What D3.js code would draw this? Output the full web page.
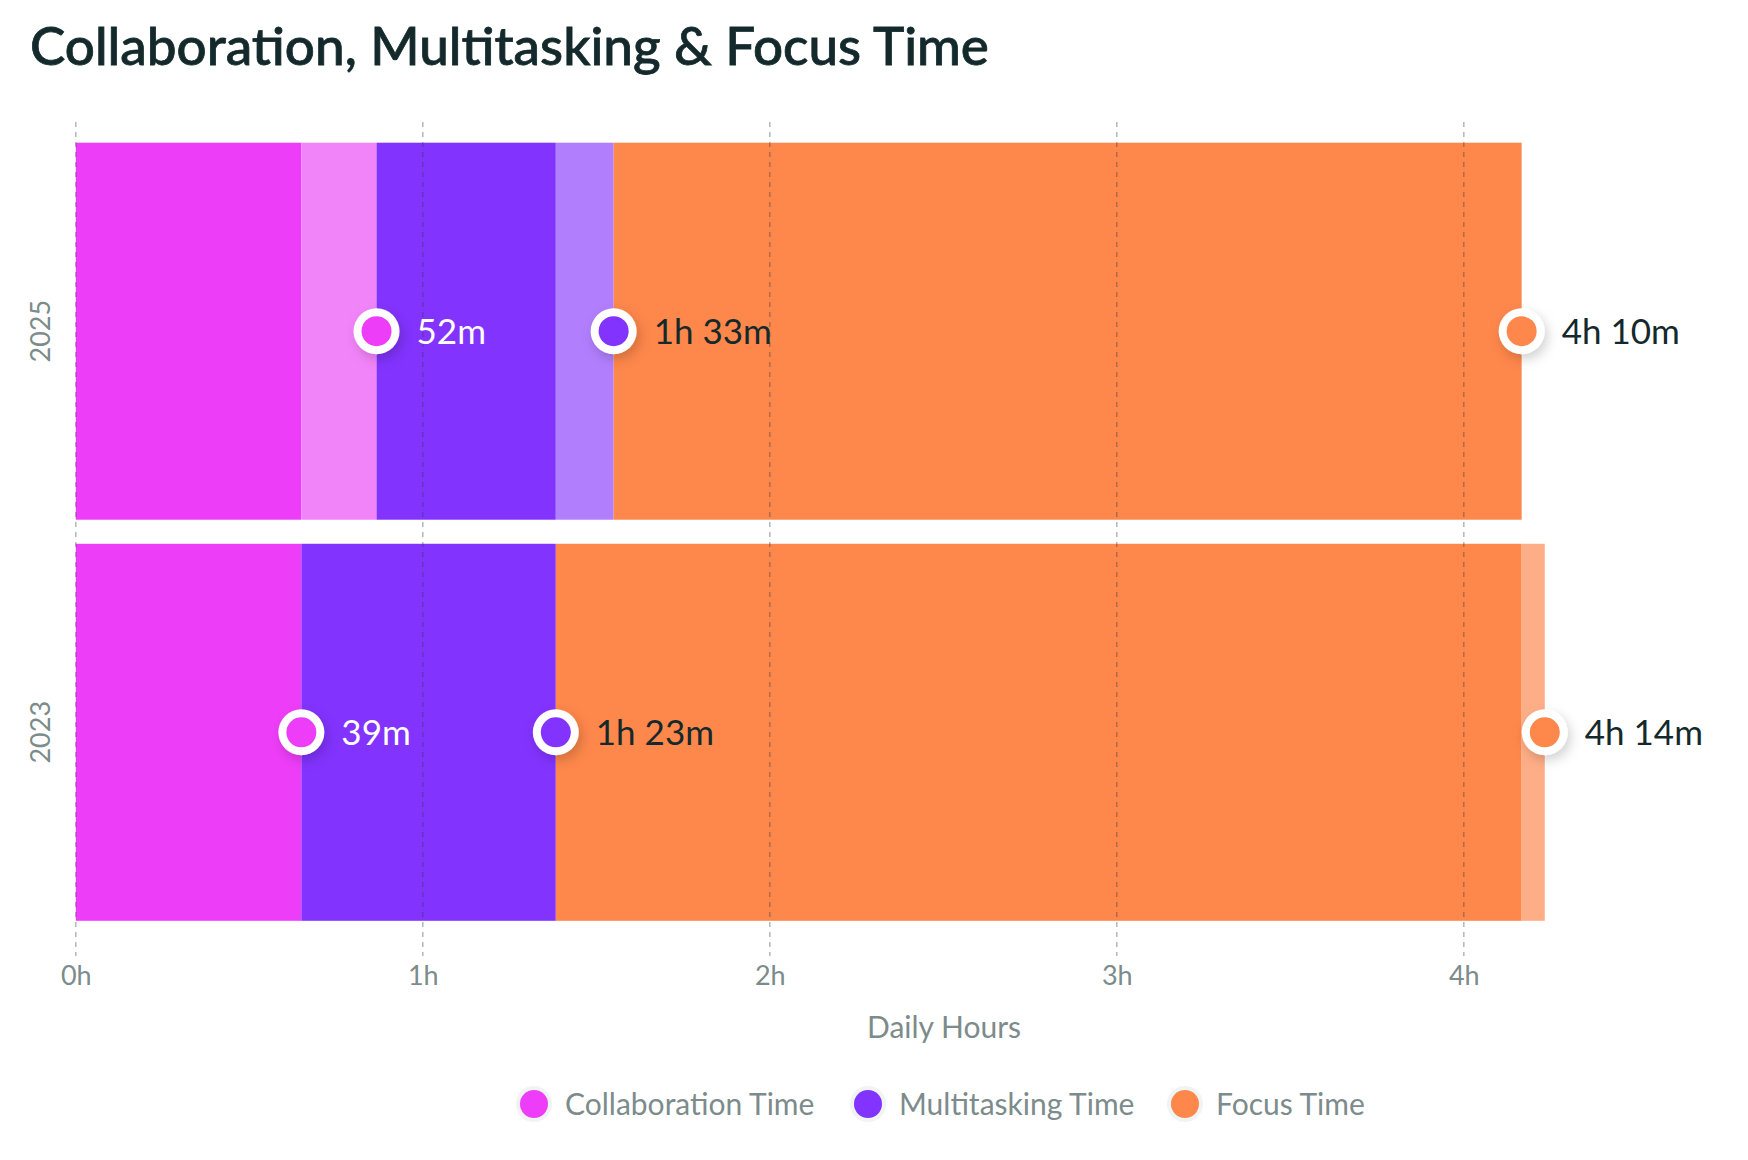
<!DOCTYPE html>
<html>
<head>
<meta charset="utf-8">
<script src="https://cdn.jsdelivr.net/npm/d3@7"></script>
<style>
    html, body { margin: 0; padding: 0; background: #ffffff; }
    svg { display: block; font-family: Lato, "Noto Sans", sans-serif; }
</style>
</head>
<body>
<div id="chart-div"></div>
<script>
/* Collaboration, Multitasking & Focus Time
 * Stacked horizontal bars, one per year, values in minutes (cumulative). */

// DATA ///////////////////////////////////////////////////////////////////////
const years = ["2025", "2023"];
const categories = ["Collaboration Time", "Multitasking Time", "Focus Time"];
// cumulative daily minutes at the end of each category
const minutes2025 = [52, 93, 250];
const minutes2023 = [39, 83, 254];
const tickMinutes = [0, 60, 120, 180, 240];
const tickLabels = ["0h", "1h", "2h", "3h", "4h"];

(function() {
    const W = 1748, H = 1160;
    const dark = { "Collaboration Time": "#ee3df8", "Multitasking Time": "#8233fe", "Focus Time": "#fe874b" };
    const light = { "Collaboration Time": "#f284f9", "Multitasking Time": "#b17efd", "Focus Time": "#feae86" };
    const textDark = "#14292b";
    const grey = "#7c8b8b";

    const byYear = { "2025": minutes2025, "2023": minutes2023 };

    const svg = d3.select("#chart-div").append("svg")
        .attr("width", W).attr("height", H);

    const defs = svg.append("defs");
    const f = defs.append("filter").attr("id", "shadow")
        .attr("x", "-60%").attr("y", "-60%").attr("width", "220%").attr("height", "220%");
    f.append("feDropShadow").attr("dx", 3).attr("dy", 5).attr("stdDeviation", 6)
        .attr("flood-color", "#000").attr("flood-opacity", 0.18);

    // title
    svg.append("text")
        .attr("x", 30).attr("y", 65)
        .attr("font-size", 53).attr("font-weight", 500)
        .attr("fill", textDark).attr("stroke", textDark).attr("stroke-width", 0.8)
        .text("Collaboration, Multitasking & Focus Time");

    // scales
    const x = d3.scaleLinear().domain([0, 300]).range([75.8, 75.8 + 5 * 347]);
    const y = d3.scaleBand().domain(years).range([142.7, 920.8])
        .paddingInner(0.06).paddingOuter(0);

    // segments: each category runs from the previous end to its own end;
    // dark up to the other year's end, lighter beyond it
    const segs = [];
    years.forEach(function(yr) {
        const other = byYear[years.find(function(o) { return o !== yr; })];
        const vals = byYear[yr];
        vals.forEach(function(v, i) {
            const start = i === 0 ? 0 : vals[i - 1];
            const mid = Math.max(start, Math.min(v, other[i]));
            segs.push({ year: yr, cat: categories[i], x0: start, x1: mid, fill: dark[categories[i]] });
            if (mid < v) segs.push({ year: yr, cat: categories[i], x0: mid, x1: v, fill: light[categories[i]] });
        });
    });

    svg.append("g").selectAll("rect")
        .data(segs).enter().append("rect")
        .attr("x", function(d) { return x(d.x0); })
        .attr("y", function(d) { return y(d.year); })
        .attr("width", function(d) { return x(d.x1) - x(d.x0); })
        .attr("height", y.bandwidth())
        .attr("fill", function(d) { return d.fill; });

    // dashed grid over the bars
    svg.append("g").selectAll("line")
        .data(tickMinutes).enter().append("line")
        .attr("x1", function(d) { return x(d); }).attr("x2", function(d) { return x(d); })
        .attr("y1", 122).attr("y2", 956)
        .attr("stroke", "#2f3f40").attr("stroke-opacity", 0.4)
        .attr("stroke-width", 1.4).attr("stroke-dasharray", "5,5");

    // x axis labels
    const xAxis = d3.axisBottom(x).tickValues(tickMinutes)
        .tickFormat(function(d, i) { return tickLabels[i]; })
        .tickSize(0).tickPadding(0);
    const gx = svg.append("g").attr("transform", "translate(0,966)").call(xAxis);
    gx.select(".domain").remove();
    gx.selectAll("text").attr("font-size", 27).attr("fill", grey)
        .attr("font-family", "Lato, sans-serif").attr("dy", "0.71em");

    svg.append("text")
        .attr("x", 944).attr("y", 1038).attr("text-anchor", "middle")
        .attr("font-size", 30).attr("fill", grey).text("Daily Hours");

    // y labels, rotated
    svg.append("g").selectAll("text")
        .data(years).enter().append("text")
        .attr("transform", function(d) { return "translate(50," + (y(d) + y.bandwidth() / 2) + ") rotate(-90)"; })
        .attr("text-anchor", "middle")
        .attr("font-size", 27).attr("fill", grey)
        .text(function(d) { return d; });

    // markers with value labels
    function fmt(m) {
        const h = Math.floor(m / 60), r = m % 60;
        return h > 0 ? h + "h " + r + "m" : r + "m";
    }
    const points = [];
    years.forEach(function(yr) {
        byYear[yr].forEach(function(v, i) {
            points.push({ year: yr, cat: categories[i], idx: i, value: v });
        });
    });
    const pg = svg.append("g").selectAll("g")
        .data(points).enter().append("g")
        .attr("transform", function(d) {
            return "translate(" + x(d.value) + "," + (y(d.year) + y.bandwidth() / 2) + ")";
        });
    pg.append("circle").attr("r", 23).attr("fill", "#ffffff").attr("filter", "url(#shadow)");
    pg.append("circle").attr("r", 15).attr("fill", function(d) { return dark[d.cat]; });
    pg.append("text")
        .attr("x", 40).attr("dy", "0.36em")
        .attr("font-size", 35)
        .attr("fill", function(d) { return d.idx === 0 ? "#ffffff" : textDark; })
        .text(function(d) { return fmt(d.value); });

    // legend
    const legendX = [534, 868, 1185];
    const lg = svg.append("g").selectAll("g")
        .data(categories).enter().append("g")
        .attr("transform", function(d, i) { return "translate(" + legendX[i] + ",1104)"; });
    lg.append("circle").attr("r", 18).attr("fill", "#f1f4f4");
    lg.append("circle").attr("r", 14).attr("fill", function(d) { return dark[d]; });
    lg.append("text").attr("x", 31).attr("dy", "0.36em")
        .attr("font-size", 30).attr("fill", grey)
        .text(function(d) { return d; });
})();
</script>
</body>
</html>
